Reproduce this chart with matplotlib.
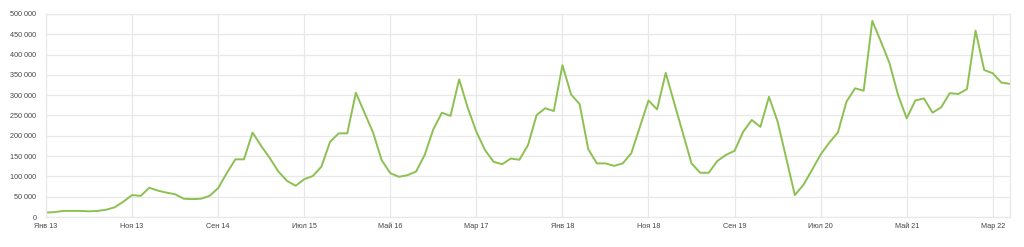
import numpy as np
import matplotlib
matplotlib.use("Agg")
import matplotlib.pyplot as plt

# monthly values, Jan 2013 .. May 2022 (thousands)
values_k = [11, 12, 15, 15, 15, 14, 15, 18, 24, 38,
            54, 52, 72, 65, 60, 56, 45, 44, 45, 52,
            71, 108, 142, 142, 208, 175, 145, 112, 89, 77,
            93, 101, 124, 185, 206, 206, 306, 257, 208, 140,
            108, 99, 103, 112, 153, 216, 257, 249, 339, 269,
            210, 165, 136, 130, 144, 141, 177, 251, 268, 261,
            374, 302, 278, 167, 132, 132, 126, 132, 157, 222,
            287, 265, 355, 280, 206, 132, 109, 109, 138, 153,
            163, 210, 239, 222, 296, 235, 145, 54, 79, 116,
            154, 183, 208, 284, 317, 311, 483, 432, 379, 300,
            243, 287, 292, 257, 270, 305, 303, 315, 459, 362,
            354, 331, 328]
values = np.array(values_k) * 1000
months = np.arange(len(values))

tick_pos = [0, 10, 20, 30, 40, 50, 60, 70, 80, 90, 100, 110]
tick_labels = ["Янв 13", "Ноя 13", "Сен 14", "Июл 15", "Май 16", "Мар 17",
               "Янв 18", "Ноя 18", "Сен 19", "Июл 20", "Май 21", "Мар 22"]
y_ticks = np.arange(0, 500001, 50000)

plt.rcParams['font.family'] = ['Liberation Sans', 'DejaVu Sans']

fig = plt.figure(figsize=(10.24, 2.47), dpi=100)
ax = fig.add_axes([46/1024, 1 - 217/247, (1010 - 46)/1024, (217 - 14)/247])

ax.plot(months, values, color="#8cc152", lw=1.4)

ax.set_xlim(0, len(values) - 1)
ax.set_ylim(0, 500000)
ax.set_xticks(tick_pos)
ax.set_xticklabels(tick_labels)
ax.set_yticks(y_ticks)
ax.set_yticklabels([f"{v:,}".replace(",", " ") for v in y_ticks])
ax.tick_params(length=0, labelsize=5.2, colors="#444444")
ax.tick_params(axis="y", pad=7)
ax.tick_params(axis="x", pad=4)

ax.grid(True, color="#e8e8e8", lw=0.9)
for s in ax.spines.values():
    s.set_color("#e8e8e8")
    s.set_linewidth(0.9)

fig.savefig("out.png", dpi=100)
